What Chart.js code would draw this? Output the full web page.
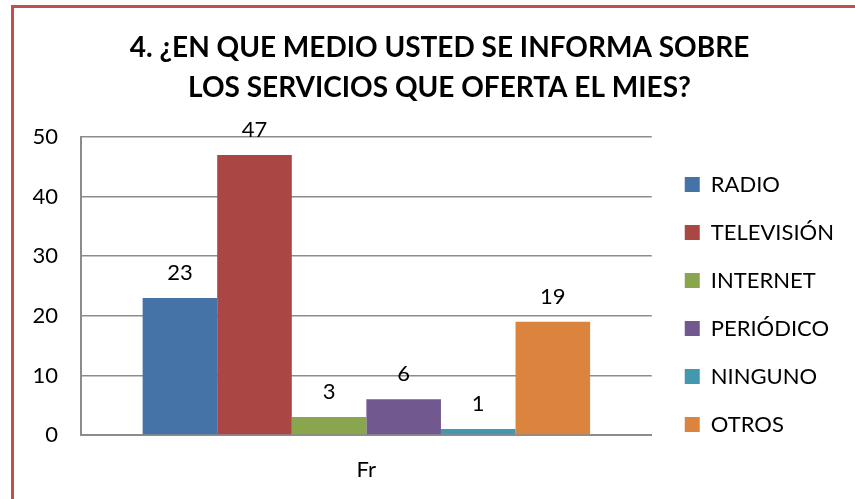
<!DOCTYPE html>
<html>
<head>
<meta charset="utf-8">
<script src="https://cdn.jsdelivr.net/npm/chart.js@4"></script>
<style>
  body { margin: 0; background: #fff; }
  #frame { position: absolute; left: 11px; top: 5px; width: 900px; height: 600px; border: 3px solid #c0504d; }
  #wrap { position: absolute; left: 0; top: 0; width: 855px; height: 499px; }
</style>
</head>
<body>
<div id="frame"></div>
<div id="wrap"><canvas id="myChart" width="855" height="499"></canvas></div>
<script>
const categories = ['Fr'];
const series = ['RADIO', 'TELEVISIÓN', 'INTERNET', 'PERIÓDICO', 'NINGUNO', 'OTROS'];
const values = [23, 47, 3, 6, 1, 19];
const colors = ['#4572a7', '#aa4643', '#89a54e', '#71588f', '#4198af', '#db843d'];
const yTicks = [0, 10, 20, 30, 40, 50];

const font = 'Lato, "Open Sans", sans-serif';

// draws the value above each bar
const valueLabels = {
    id: 'valueLabels',
    afterDatasetsDraw(chart) {
        const ctx = chart.ctx;
        ctx.save();
        ctx.font = '22px ' + font;
        ctx.fillStyle = '#000';
        ctx.textAlign = 'center';
        ctx.textBaseline = 'bottom';
        chart.data.datasets.forEach((ds, i) => {
            chart.getDatasetMeta(i).data.forEach((bar, j) => {
                ctx.fillText(ds.data[j], bar.x, bar.y - 14);
            });
        });
        ctx.restore();
    }
};

// nudge the legend and title to where excel puts them
const boxShift = {
    id: 'boxShift',
    afterLayout(chart) {
        const lg = chart.legend;
        lg.top += 50; lg.bottom += 50;
        lg.left += 7; lg.right += 7;
        const tb = chart.titleBlock;
        tb.left += 14; tb.right += 14;
    }
};

new Chart(document.getElementById('myChart'), {
    type: 'bar',
    data: {
        labels: categories,
        datasets: series.map((name, i) => ({
            label: name,
            data: [values[i]],
            backgroundColor: colors[i],
            borderWidth: 0
        }))
    },
    options: {
        responsive: false,
        animation: false,
        layout: { padding: { left: 14, right: 18, top: 20, bottom: 10 } },
        datasets: { bar: { barPercentage: 1, categoryPercentage: 0.784 } },
        scales: {
            y: {
                min: 0,
                max: 50,
                ticks: { stepSize: 10, color: '#000', padding: 23, font: { size: 22, family: font } },
                grid: { color: '#8c8c8c', lineWidth: 1.5, drawTicks: false },
                border: { color: '#8c8c8c', width: 2 },
                afterFit: (scale) => { scale.width = 67; }
            },
            x: {
                ticks: { color: '#000', padding: 22, font: { size: 22, family: font } },
                grid: { display: false, drawTicks: false },
                border: { color: '#8c8c8c', width: 2 },
                afterFit: (scale) => { scale.height = 54; }
            }
        },
        plugins: {
            title: {
                display: true,
                text: ['4. ¿EN QUE MEDIO USTED SE INFORMA SOBRE', 'LOS SERVICIOS QUE OFERTA EL MIES?'],
                color: '#000',
                font: { size: 28, weight: 'bold', family: font, lineHeight: 1.43 },
                padding: { top: 8, bottom: 29 }
            },
            legend: {
                position: 'right',
                labels: {
                    color: '#000',
                    boxWidth: 15,
                    boxHeight: 15,
                    padding: 26,
                    font: { size: 22, family: font }
                }
            },
            tooltip: { enabled: false }
        }
    },
    plugins: [valueLabels, boxShift]
});
</script>
</body>
</html>
